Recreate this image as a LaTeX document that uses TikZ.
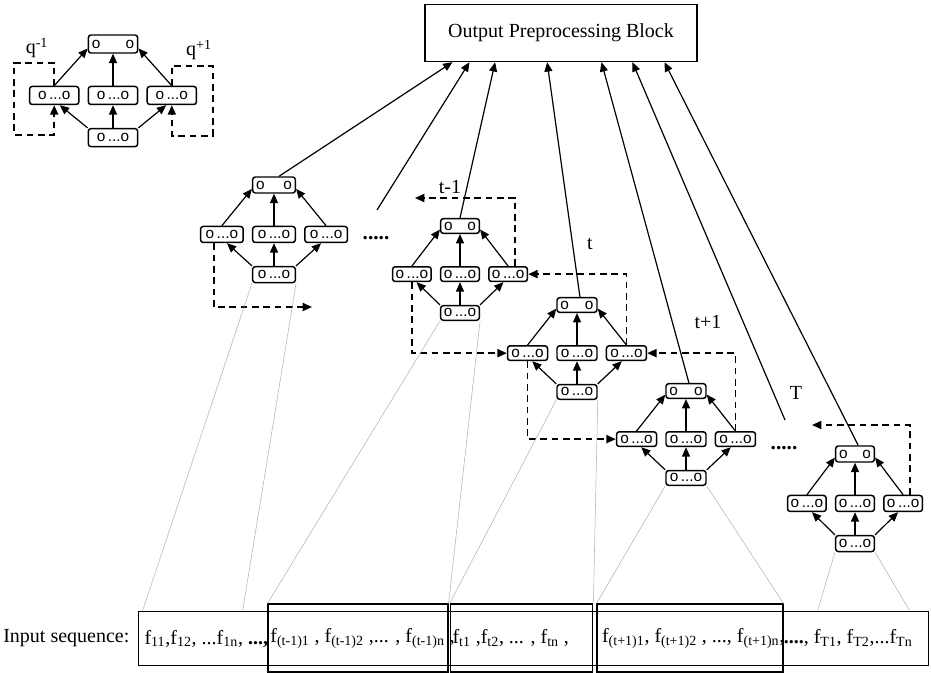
\documentclass[tikz,border=0pt]{standalone}
\usepackage{fontspec}
\setmainfont{Liberation Serif}
\setsansfont{Liberation Sans}
\usetikzlibrary{arrows.meta, positioning}

\begin{document}
\begin{tikzpicture}[
    x=0.75pt, y=-0.75pt,
    unit/.style 2 args={draw, line width=1.1pt, rounded corners=2pt, inner sep=1pt, minimum width=#1, minimum height=#2, font=\sffamily\fontsize{11.5}{11.5}\selectfont},
    outbox/.style={draw, line width=0.8pt, minimum width=204pt, minimum height=43pt, font=\fontsize{15}{18}\selectfont},
    seqbox/.style={draw, line width=0.8pt, minimum width=593pt, minimum height=41pt},
    winbox/.style={draw, line width=0.8pt, minimum height=51pt},
    seqtxt/.style={inner sep=0pt, font=\fontsize{15}{18}\selectfont},
    lbl/.style={font=\fontsize{15}{18}\selectfont},
    dots/.style={font=\bfseries\fontsize{16}{16}\selectfont},
    feed/.style={-{Triangle[length=7pt,width=6pt]}, line width=0.9pt},
    recur/.style={-{Triangle[length=7pt,width=6pt]}, line width=1.3pt, dash pattern=on 5pt off 3.5pt},
    tie/.style={gray!60, line width=0.4pt}
]
\useasboundingbox (0,0) rectangle (931,672);

\node[outbox] (out) at (561,33) {Output Preprocessing Block};

% one recurrent block: name / top unit position / unit size
\foreach \b/\x/\y/\w/\h in {q/113/44/37pt/13.5pt, a/274/185/32pt/12pt, b/460/226/29pt/11pt,
                            c/577/305/30pt/11pt, d/686/391/30pt/11pt, e/855/454/29pt/12pt} {
  \node[unit={\w}{\h}] (\b-top) at (\x,\y) {o\hspace{\dimexpr\w-18pt\relax}o};
  \node[unit={\w}{\h}, below=24pt of \b-top] (\b-c) {o\,...o};
  \node[unit={\w}{\h}, left=6pt of \b-c] (\b-l) {o\,...o};
  \node[unit={\w}{\h}, right=6pt of \b-c] (\b-r) {o\,...o};
  \node[unit={\w}{\h}, below=17pt of \b-c] (\b-bot) {o\,...o};
  \draw[feed] (\b-bot.north west) -- (\b-l.-60);
  \draw[feed] (\b-bot) -- (\b-c);
  \draw[feed] (\b-bot.north east) -- (\b-r.240);
  \draw[feed] (\b-l.north) -- (\b-top.190);
  \draw[feed] (\b-c) -- (\b-top);
  \draw[feed] (\b-r.north) -- (\b-top.-10);
}

\node[lbl] (qm) at (37,48) {q\textsuperscript{-1}};
\node[lbl] (qp) at (199,50) {q\textsuperscript{+1}};
\node[lbl] (lb) at (450,187) {t-1};
\node[lbl] (lc) at (590,244) {t};
\node[lbl] (ld) at (708,322) {t+1};
\node[lbl] (le) at (796,393) {T};
\node[dots] (dotsA) at (376,238) {.....};
\node[dots] (dotsB) at (784,448) {.....};

\coordinate (gapA) at (377,210);
\coordinate (gapB) at (785,420);
\coordinate (aFwd) at (312,307);
\coordinate (bBack) at (415,198);
\coordinate (eBack) at (812,425);

% self loops in the legend
\draw[recur] (q-l.north) -- ++(0,-23) -- ++(-40,0) -- ++(0,72) -- ++(40,0) -- (q-l.south);
\draw[recur] (q-r.north) -- ++(0,-20) -- ++(41,0) -- ++(0,70) -- ++(-41,0) -- (q-r.south);

% links between neighbouring blocks
\draw[recur] ([xshift=-6pt]a-l.south) |- (aFwd);
\draw[recur] ([xshift=5pt]b-r.north) |- (bBack);
\draw[recur] (b-l.south) |- (c-l.west);
\draw[recur] (c-r.north) |- (b-r.east);
\draw[recur] (c-l.south) |- (d-l.west);
\draw[recur] (d-r.north) |- (c-r.east);
\draw[recur] ([xshift=5pt]e-r.north) |- (eBack);

% outputs
\draw[feed] (a-top.60) -- ([xshift=21pt]out.south west);
\draw[feed] (gapA) -- ([xshift=33.75pt]out.south west);
\draw[feed] (b-top.north) -- ([xshift=53pt]out.south west);
\draw[feed] (c-top.70) -- ([xshift=92pt]out.south west);
\draw[feed] (d-top.70) -- ([xshift=132.75pt]out.south west);
\draw[feed] (gapB) -- ([xshift=156pt]out.south west);
\draw[feed] (e-top.70) -- ([xshift=180pt]out.south west);

% input sequence
\node[seqbox] (seq) at (533.5,638.5) {};
\node[winbox, minimum width=135pt] (winB) at (358,638) {};
\node[winbox, minimum width=107pt] (winC) at (521.5,638) {};
\node[winbox, minimum width=139.5pt] (winD) at (690,638) {};
\node[seqtxt, left=6pt of seq] (inlbl) {Input sequence:};
\node[seqtxt, right=5pt of seq.west] (s1) {f\textsubscript{11},f\textsubscript{12}, ...f\textsubscript{1n}, \textbf{...,}};
\node[seqtxt, right=2pt of winB.west] (s2) {f\textsubscript{(t-1)1} , f\textsubscript{(t-1)2} ,... , f\textsubscript{(t-1)n} ,};
\node[seqtxt, right=2pt of winC.west] (s3) {f\textsubscript{t1} ,f\textsubscript{t2}, ... , f\textsubscript{tn} ,};
\node[seqtxt, right=4pt of winD.west] (s4) {f\textsubscript{(t+1)1}, f\textsubscript{(t+1)2} , ..., f\textsubscript{(t+1)n},};
\node[seqtxt, right=0pt of winD.east] (s5) {\textbf{....}, f\textsubscript{T1}, f\textsubscript{T2},...f\textsubscript{Tn}};

% ties from blocks to their inputs
\draw[tie] (a-bot.south west) -- ([xshift=3.75pt]seq.north west);
\draw[tie] (a-bot.south east) -- ([xshift=78.75pt]seq.north west);
\draw[tie] (b-bot.south west) -- (winB.north west);
\draw[tie] (b-bot.south east) -- (winB.north east);
\draw[tie] (c-bot.south west) -- (winC.north west);
\draw[tie] (c-bot.south east) -- (winC.north east);
\draw[tie] (d-bot.south west) -- (winD.north west);
\draw[tie] (d-bot.south east) -- (winD.north east);
\draw[tie] (e-bot.south west) -- ([xshift=510pt]seq.north west);
\draw[tie] (e-bot.south east) -- ([xshift=579pt]seq.north west);
\end{tikzpicture}
\end{document}
